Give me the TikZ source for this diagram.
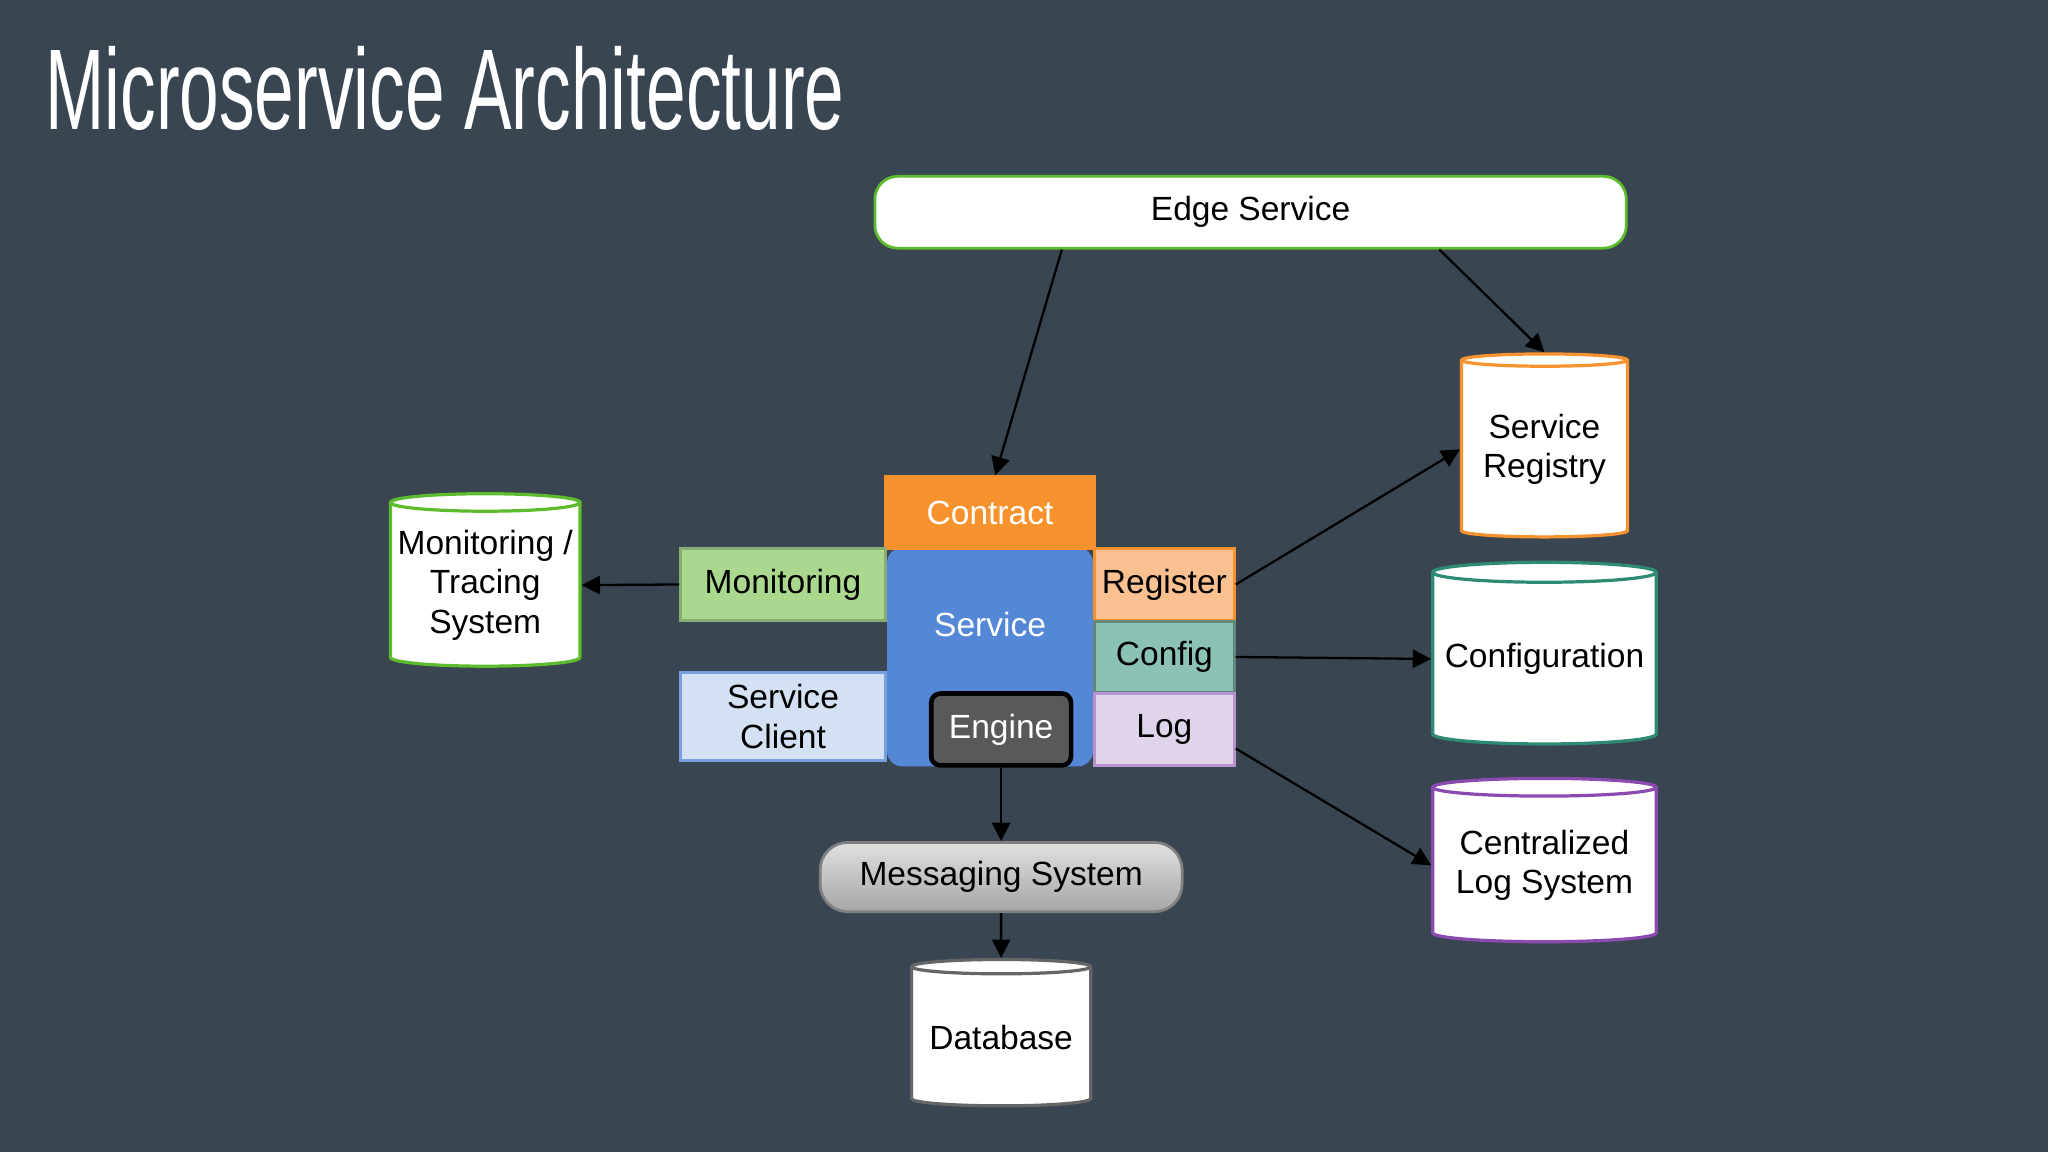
\documentclass[tikz,border=0pt]{standalone}
\usepackage{fontspec}
\setmainfont{Liberation Sans}
\usetikzlibrary{shapes.geometric,arrows.meta}
\definecolor{bg}{HTML}{394651}
\definecolor{grn}{HTML}{5DBB2E}
\definecolor{org}{HTML}{F7922E}
\definecolor{blu}{HTML}{5488D6}
\definecolor{lgr}{HTML}{A9D88E}
\definecolor{lbl}{HTML}{D4E1F4}
\definecolor{lor}{HTML}{FAC08F}
\definecolor{tea}{HTML}{8CC2B4}
\definecolor{lav}{HTML}{E0D4EA}
\definecolor{pur}{HTML}{8A4AB0}
\definecolor{teb}{HTML}{2E8A72}
\begin{document}
\begin{tikzpicture}[x=0.01cm,y=-0.01cm,
  every node/.style={font=\fontsize{7.3}{8.6}\selectfont,align=center,inner sep=0pt},
  box/.style={draw,line width=0.6pt,minimum width=#1,minimum height=0.55cm},
  cyl/.style={cylinder,shape border rotate=90,draw,line width=0.7pt,fill=white,aspect=0.1},
  arr/.style={-{Triangle[length=4pt,width=4pt]},black,line width=0.5pt}]
\fill[bg] (0,0) rectangle (1568,882);
\node[anchor=west,text=white,font=\fontsize{25}{28}\selectfont] (title) at (34,68) {\scalebox{0.62}[1]{Microservice Architecture}};
\node[box=5.75cm,draw=grn,fill=white,rounded corners=5pt] (edge) at (957.5,162.5) {Edge Service};
\node[draw=blu,fill=blu,rounded corners=3pt,minimum width=1.56cm,minimum height=1.66cm,text=white,text depth=0.5cm] (svc) at (758,503) {Service};
\node[box=1.6cm,draw=org,fill=org,text=white] (contract) at (758,392.5) {Contract};
\node[box=1.07cm,draw=black,fill=black!65,text=white,rounded corners=2pt,line width=1pt] (engine) at (766.5,558.5) {Engine};
\node[box=1.57cm,draw=lgr!80!black,fill=lgr] (mon) at (599.5,447.5) {Monitoring};
\node[box=1.57cm,draw=blu!80,fill=lbl,minimum height=0.67cm] (client) at (599.5,548.5) {Service\\Client};
\node[box=1.07cm,draw=org,fill=lor] (reg) at (891.5,447.5) {Register};
\node[box=1.07cm,draw=tea!70!black,fill=tea,minimum height=0.54cm] (cfg) at (891.5,503) {Config};
\node[box=1.07cm,draw=pur!60,fill=lav] (log) at (891.5,558.5) {Log};
\node[draw=gray,top color=white!88!black,bottom color=black!35,rounded corners=6pt,minimum width=2.77cm,minimum height=0.53cm,line width=0.6pt] (msg) at (766.5,671.5) {Messaging System};
\node[cyl,draw=black!60,minimum width=1.37cm,minimum height=1.12cm] (db) at (766.5,794) {Database};
\node[cyl,draw=grn,minimum width=1.45cm,minimum height=1.32cm] (mts) at (371.5,448) {Monitoring /\\Tracing\\System};
\node[cyl,draw=org,minimum width=1.27cm,minimum height=1.4cm] (sr) at (1182.5,344) {Service\\Registry};
\node[cyl,draw=teb,minimum width=1.71cm,minimum height=1.39cm] (conf) at (1182.5,504.5) {Configuration};
\node[cyl,draw=pur,minimum width=1.71cm,minimum height=1.25cm] (cls) at (1182.5,662.5) {Centralized\\Log System};
\draw[arr] (edge.south -| 813,0) -- (contract.north -| 762,0);
\draw[arr] (edge.south -| 1102,0) -- (sr.north);
\draw[arr] (reg.east) -- (sr.west);
\draw[arr] (cfg.east) -- (conf.west);
\draw[arr] (log.south east) ++(0,-14) -- (cls.west);
\draw[arr] (mon.west) -- (mts.east);
\draw[arr] (engine.south) -- (msg.north);
\draw[arr] (msg.south) -- (db.north);
\end{tikzpicture}
\end{document}
